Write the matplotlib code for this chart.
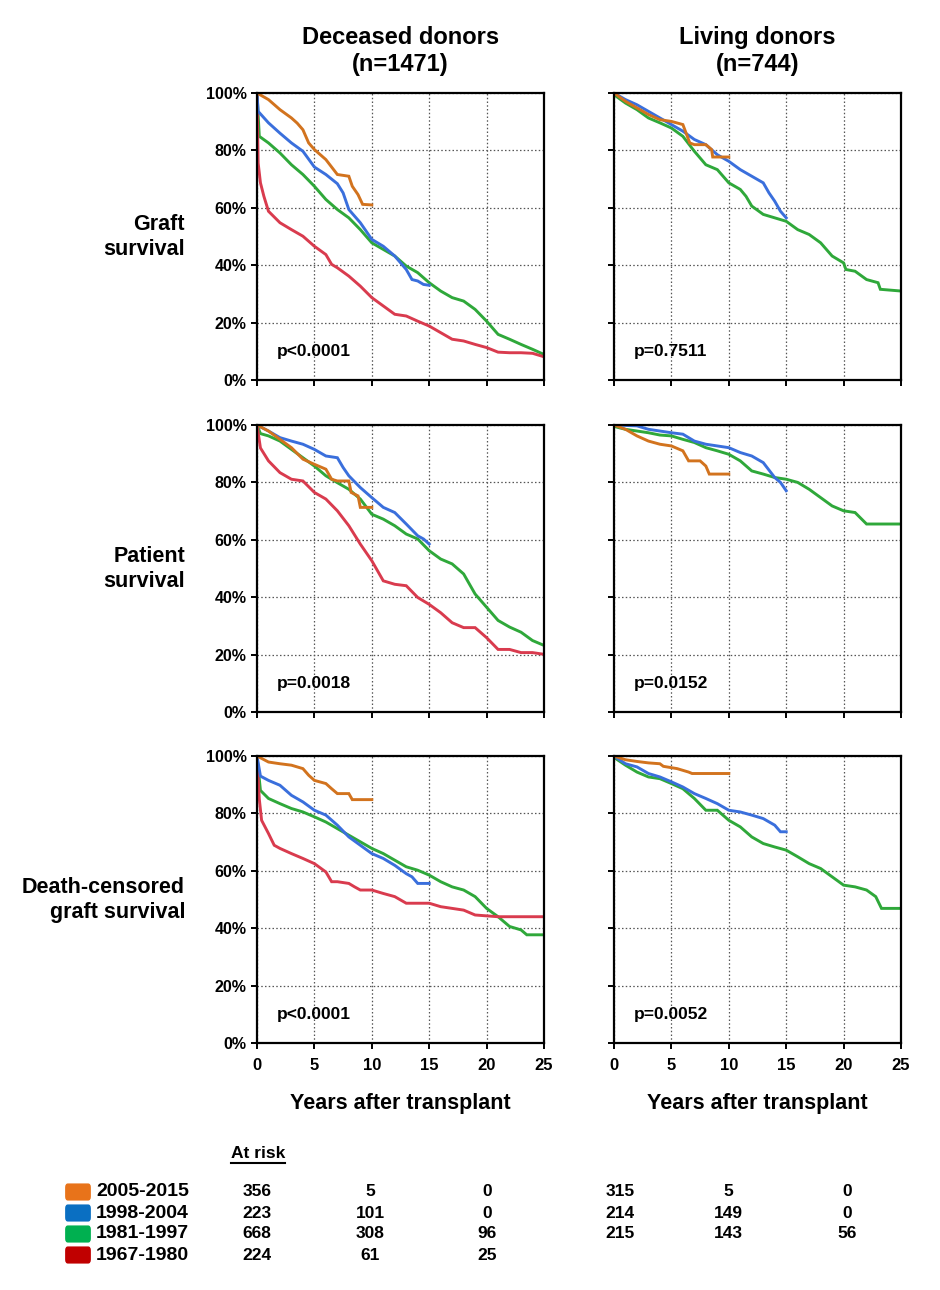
import matplotlib
matplotlib.use("Agg")
import matplotlib.pyplot as plt
from matplotlib.patches import FancyBboxPatch

plt.rcParams['font.family'] = ['Liberation Sans', 'DejaVu Sans']
plt.rcParams['font.weight'] = 'bold'

# ---------------- data (years, survival %) ----------------
era_labels = ["2005-2015", "1998-2004", "1981-1997", "1967-1980"]
col_titles = ["Deceased donors\n(n=1471)", "Living donors\n(n=744)"]
row_titles = ["Graft\nsurvival", "Patient\nsurvival", "Death-censored\ngraft survival"]
p_values = [["p<0.0001", "p=0.7511"], ["p=0.0018", "p=0.0152"], ["p<0.0001", "p=0.0052"]]
x_ticks = [0, 5, 10, 15, 20, 25]
y_ticks = [0, 20, 40, 60, 80, 100]
y_ticklabels = ["0%", "20%", "40%", "60%", "80%", "100%"]

# Graft survival, deceased donors
dg_2005_t = [0, 1, 2, 3, 3.5, 4, 4.5, 5, 6, 7, 8, 8.3, 8.8, 9.2, 10]
dg_2005_s = [100, 97.7, 94.2, 91.3, 89.5, 87.2, 82.6, 80.3, 76.8, 71.6, 71, 67.5, 64.6, 61.2, 61]
dg_1998_t = [0, 0.1, 1, 2, 3, 4, 5, 6, 7, 7.5, 8, 9, 10, 11, 12, 13, 13.5, 14, 14.5, 15]
dg_1998_s = [100, 93.6, 89.6, 86, 82.6, 79.7, 74.2, 71.6, 68.4, 65.2, 59.4, 54.8, 49, 46.6, 43.2, 38.5, 35, 34.5, 33.3, 33]
dg_1981_t = [0, 0.2, 1, 2, 3, 4, 5, 6, 7, 8, 9, 10, 11, 12, 13, 14, 15, 16, 17, 18, 19, 20, 21, 22, 23, 24, 25]
dg_1981_s = [100, 84.9, 82.6, 79.1, 75, 71.6, 67.5, 62.9, 59.4, 56.5, 52.4, 47.8, 45.5, 43.2, 39.7, 37.4, 33.9, 31, 28.7, 27.5, 24.6, 20.5, 15.9, 14.2, 12.4, 10.7, 8.9]
dg_1967_t = [0, 0.1, 0.3, 0.6, 1, 2, 3, 4, 5, 6, 6.5, 7, 8, 9, 10, 11, 12, 13, 14, 15, 16, 17, 18, 19, 20, 21, 22, 23, 24, 25]
dg_1967_s = [100, 75.6, 68.7, 64, 58.8, 54.8, 52.4, 50.1, 46.6, 43.7, 40.3, 39.1, 36.2, 32.7, 28.7, 25.8, 22.9, 22.3, 20.5, 18.8, 16.5, 14.2, 13.6, 12.4, 11.3, 9.7, 9.5, 9.5, 9.3, 8.1]

# Graft survival, living donors
lg_2005_t = [0, 1, 2, 3, 4, 5, 6, 6.6, 7, 8, 8.5, 8.6, 10]
lg_2005_s = [100, 97.1, 94.8, 92.5, 90.7, 90.1, 89, 82.6, 82, 82, 80.3, 77.7, 77.7]
lg_1998_t = [0, 1, 2, 3, 4, 5, 6, 7, 8, 9, 10, 11, 12, 13, 13.5, 14, 14.5, 15]
lg_1998_s = [100, 97.7, 95.9, 93.6, 91.3, 89, 86.7, 83.8, 82, 78.5, 76.2, 73.3, 71, 68.7, 65.2, 62.3, 58.8, 56.5]
lg_1981_t = [0, 1, 2, 3, 4, 5, 6, 7, 8, 9, 10, 11, 11.5, 12, 13, 14, 15, 16, 17, 18, 19, 20, 20.2, 21, 22, 23, 23.2, 25]
lg_1981_s = [99.4, 96.5, 94.2, 91.3, 89.6, 87.8, 84.9, 79.7, 75, 73.3, 68.7, 66.4, 64, 60.6, 57.7, 56.5, 55.3, 52.4, 50.7, 47.8, 43.2, 40.8, 38.5, 37.9, 35, 33.9, 31.6, 31]

# Patient survival, deceased donors
dp_2005_t = [0, 1, 2, 3, 4, 5, 6, 6.5, 7, 8, 8.2, 8.8, 9, 10]
dp_2005_s = [100, 97.9, 95, 92.1, 88.1, 86.3, 84.6, 81.1, 80.5, 80.5, 76.5, 75.3, 71.3, 71.3]
dp_1998_t = [0, 1, 2, 3, 4, 5, 6, 7, 7.5, 8, 9, 10, 11, 12, 13, 14, 14.5, 15]
dp_1998_s = [100, 97.9, 95.6, 94.4, 93.3, 91.5, 89.2, 88.6, 85.2, 82.3, 78.2, 74.7, 71.3, 69.5, 65.5, 61.4, 60.3, 58.5]
dp_1981_t = [0, 0.3, 1, 2, 3, 4, 5, 6, 7, 8, 9, 10, 11, 12, 13, 14, 15, 16, 17, 18, 19, 20, 21, 22, 23, 24, 25]
dp_1981_s = [100, 97, 96.2, 94.4, 91.5, 88.6, 85.7, 82.3, 79.9, 77.6, 74.2, 68.9, 67.2, 64.9, 62, 60.3, 56.2, 53.3, 51.6, 48.1, 41.1, 36.5, 31.9, 29.6, 27.8, 24.9, 23.2]
dp_1967_t = [0, 0.3, 1, 2, 3, 4, 5, 6, 7, 8, 9, 10, 11, 12, 13, 14, 15, 16, 17, 18, 19, 20, 21, 22, 23, 24, 25]
dp_1967_s = [100, 92, 87.5, 83.4, 81.1, 80.5, 76.5, 74.2, 70.1, 64.9, 58.5, 52.7, 45.7, 44.5, 44, 39.9, 37.5, 34.6, 31.1, 29.4, 29.4, 25.9, 21.8, 21.8, 20.7, 20.7, 20.1]

# Patient survival, living donors
lp_2005_t = [0, 1, 2, 3, 4, 5, 6, 6.5, 7.5, 8, 8.3, 10]
lp_2005_s = [100, 98.5, 96.2, 94.4, 93.3, 92.7, 91, 87.5, 87.5, 85.7, 82.9, 82.9]
lp_1998_t = [0, 2, 3, 4, 5, 6, 7, 8, 9, 10, 11, 12, 13, 14, 14.5, 15]
lp_1998_s = [100, 99.7, 98.5, 97.9, 97.3, 96.8, 94.4, 93.3, 92.7, 92.1, 90.4, 89.2, 86.9, 81.7, 80, 77.1]
lp_1981_t = [0, 1, 2, 3, 4, 5, 6, 7, 8, 9, 10, 11, 12, 13, 14, 15, 16, 17, 18, 19, 20, 21, 22, 25]
lp_1981_s = [99.5, 98.5, 97.9, 97.3, 96.5, 96.2, 95, 93.9, 92.1, 91, 89.8, 87.5, 84, 82.9, 81.7, 81.1, 80, 77.6, 74.7, 71.8, 70.1, 69.5, 65.5, 65.5]

# Death-censored graft survival, deceased donors
dd_2005_t = [0, 1, 2, 3, 4, 4.5, 5, 6, 6.5, 7, 8, 8.3, 10]
dd_2005_s = [100, 97.9, 97.3, 96.8, 95.6, 93.3, 91.5, 90.4, 88.6, 86.9, 86.9, 84.8, 84.8]
dd_1998_t = [0, 0.3, 1, 2, 3, 4, 5, 6, 7, 8, 9, 10, 11, 12, 13, 13.5, 14, 15]
dd_1998_s = [100, 93, 91.5, 89.8, 86.3, 84, 81.1, 79.4, 75.9, 71.8, 68.9, 66, 64.3, 61.9, 59, 57.9, 55.6, 55.6]
dd_1981_t = [0, 0.3, 1, 2, 3, 4, 5, 6, 7, 8, 9, 10, 11, 12, 13, 14, 15, 16, 17, 18, 19, 20, 21, 22, 23, 23.5, 25]
dd_1981_s = [100, 88, 85.2, 83.4, 81.7, 80.5, 78.8, 77, 74.7, 72.4, 70.1, 67.8, 66, 63.7, 61.4, 60.2, 58.5, 56.2, 54.4, 53.3, 51, 46.9, 44, 40.6, 39.4, 37.7, 37.7]
dd_1967_t = [0, 0.2, 0.4, 1, 1.5, 2, 3, 4, 5, 6, 6.5, 7, 8, 8.5, 9, 10, 11, 12, 13, 15, 16, 18, 19, 21, 25]
dd_1967_s = [100, 85, 77.6, 73, 68.9, 67.8, 66, 64.3, 62.5, 59.6, 56.2, 56.2, 55.6, 54.4, 53.3, 53.3, 52.1, 51, 48.7, 48.7, 47.5, 46.3, 44.6, 44, 44]

# Death-censored graft survival, living donors
ld_2005_t = [0, 1, 2, 3, 4, 4.3, 5.5, 6.5, 6.8, 10]
ld_2005_s = [100, 98.7, 98.1, 97.6, 97.3, 96.4, 95.6, 94.4, 93.9, 93.9]
ld_1998_t = [0, 1, 2, 3, 4, 5, 6, 7, 8, 9, 10, 11, 12, 13, 14, 14.5, 15]
ld_1998_s = [100, 97.3, 96.2, 93.9, 92.7, 91, 89.2, 86.9, 85.2, 83.4, 81.1, 80.5, 79.4, 78.2, 75.9, 73.6, 73.6]
ld_1981_t = [0, 1, 2, 3, 4, 5, 6, 7, 8, 9, 10, 11, 12, 13, 14, 15, 16, 17, 18, 19, 20, 21, 22, 22.8, 23.3, 25]
ld_1981_s = [99.5, 96.8, 94.4, 92.7, 92.1, 90.4, 88.6, 85.2, 81.1, 81.1, 77.6, 75.3, 71.8, 69.5, 68.3, 67.2, 64.9, 62.5, 60.8, 57.9, 55, 54.4, 53.3, 51, 46.9, 46.9]

# At-risk numbers at 0, 10, 20 years
risk_dec = [["356", "5", "0"], ["223", "101", "0"], ["668", "308", "96"], ["224", "61", "25"]]
risk_liv = [["315", "5", "0"], ["214", "149", "0"], ["215", "143", "56"], []]

# ---------------- styling ----------------
line_colors = {"2005": "#D2731E", "1998": "#3A6FDC", "1981": "#2FA83A", "1967": "#D93B4E"}
legend_colors = ["#E8731A", "#0A6FC2", "#00B050", "#C00000"]

panels = [
    [[("1981", dg_1981_t, dg_1981_s), ("1967", dg_1967_t, dg_1967_s), ("1998", dg_1998_t, dg_1998_s), ("2005", dg_2005_t, dg_2005_s)],
     [("1981", lg_1981_t, lg_1981_s), ("1998", lg_1998_t, lg_1998_s), ("2005", lg_2005_t, lg_2005_s)]],
    [[("1981", dp_1981_t, dp_1981_s), ("1967", dp_1967_t, dp_1967_s), ("1998", dp_1998_t, dp_1998_s), ("2005", dp_2005_t, dp_2005_s)],
     [("1981", lp_1981_t, lp_1981_s), ("1998", lp_1998_t, lp_1998_s), ("2005", lp_2005_t, lp_2005_s)]],
    [[("1981", dd_1981_t, dd_1981_s), ("1967", dd_1967_t, dd_1967_s), ("1998", dd_1998_t, dd_1998_s), ("2005", dd_2005_t, dd_2005_s)],
     [("1981", ld_1981_t, ld_1981_s), ("1998", ld_1998_t, ld_1998_s), ("2005", ld_2005_t, ld_2005_s)]],
]

W, H = 940, 1290
fig = plt.figure(figsize=(W / 100, H / 100), dpi=100)

ax_left = [257, 614]
ax_top = [93, 425, 756]
ax_w, ax_h = 287, 287

axes = []
for r in range(3):
    for c in range(2):
        x0 = ax_left[c] / W
        y0 = 1 - (ax_top[r] + ax_h) / H
        ax = fig.add_axes([x0, y0, ax_w / W, ax_h / H])
        for key, t, s in panels[r][c]:
            ax.plot(t, s, color=line_colors[key], lw=2.1, solid_joinstyle='miter')
        ax.set_xlim(0, 25)
        ax.set_ylim(0, 100)
        ax.set_xticks(x_ticks)
        ax.set_yticks(y_ticks)
        ax.grid(True, linestyle=(0, (1.2, 1.8)), color="#555555", lw=0.9)
        ax.set_axisbelow(True)
        for sp in ax.spines.values():
            sp.set_linewidth(1.6)
            sp.set_color("black")
        ax.tick_params(direction='out', length=4, width=1.4, colors='black')
        ax.tick_params(axis='x', pad=7)
        if c == 0:
            ax.set_yticklabels(y_ticklabels, fontsize=11.5, fontweight='bold')
        else:
            ax.set_yticklabels([])
        if r == 2:
            ax.set_xticklabels([str(v) for v in x_ticks], fontsize=12, fontweight='bold')
            ax.set_xlabel("Years after transplant", fontsize=15.5, fontweight='bold', labelpad=14)
        else:
            ax.set_xticklabels([])
        ax.text(0.07, 0.1, p_values[r][c], transform=ax.transAxes, fontsize=12.5,
                fontweight='bold', ha='left', va='center')
        axes.append(ax)

# column titles
for c in range(2):
    xc = (ax_left[c] + ax_w / 2) / W
    fig.text(xc, 1 - 51 / H, col_titles[c], ha='center', va='center',
             fontsize=17, fontweight='bold', linespacing=1.2)

# row titles
for r in range(3):
    yc = 1 - (ax_top[r] + 144) / H
    fig.text(185 / W, yc, row_titles[r], ha='right', va='center',
             fontsize=15.5, fontweight='bold', linespacing=1.3)

# At-risk table
fig.text(231 / W, 1 - 1153 / H, "At risk", ha='left', va='center',
         fontsize=12.5, fontweight='bold')
fig.add_artist(plt.Line2D([231 / W, 285 / W], [1 - 1163 / H, 1 - 1163 / H],
                          color='black', lw=1.5, transform=fig.transFigure))

row_y = [1192, 1213, 1234, 1255]
dec_x = [257, 370, 487]
liv_x = [620, 728, 847]
for i in range(4):
    yy = 1 - row_y[i] / H
    fig.patches.append(FancyBboxPatch((67 / W, yy - 6 / H), 22 / W, 12 / H,
                                      boxstyle="round,pad=0.002,rounding_size=0.003",
                                      transform=fig.transFigure, facecolor=legend_colors[i],
                                      edgecolor='none'))
    fig.text(96 / W, yy, era_labels[i], ha='left', va='center', fontsize=14, fontweight='bold')
    for j, v in enumerate(risk_dec[i]):
        fig.text(dec_x[j] / W, yy, v, ha='center', va='center', fontsize=12.5, fontweight='bold')
    for j, v in enumerate(risk_liv[i]):
        fig.text(liv_x[j] / W, yy, v, ha='center', va='center', fontsize=12.5, fontweight='bold')

fig.savefig("out.png", dpi=100)
